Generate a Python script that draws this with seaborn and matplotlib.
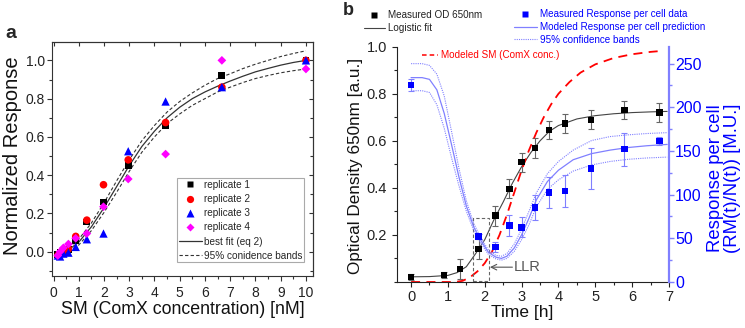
import matplotlib
matplotlib.use("Agg")
import matplotlib.pyplot as plt
import seaborn as sns
import pandas as pd
from matplotlib.lines import Line2D
from matplotlib.patches import Rectangle
from matplotlib.ticker import MultipleLocator, FormatStrFormatter

# ---------------- Panel a data ----------------
sm_conc = [0.17, 0.26, 0.39, 0.59, 0.88, 1.32, 1.98, 2.96, 4.44, 6.67, 10.0]
rep1 = [-0.015, -0.005, 0.0, 0.01, 0.06, 0.155, 0.26, 0.45, 0.66, 0.92, 1.0]
rep2 = [-0.02, -0.01, 0.005, 0.015, 0.08, 0.165, 0.35, 0.48, 0.675, 0.86, 1.0]
rep3 = [-0.02, -0.025, -0.01, -0.005, 0.025, 0.065, 0.095, 0.525, 0.785, 0.86, 1.0]
rep4 = [-0.02, 0.0, 0.02, 0.04, 0.07, 0.095, 0.235, 0.38, 0.51, 1.0, 0.955]

fit_x = [0.2, 0.5, 1.0, 1.5, 2.0, 2.5, 3.0, 3.5, 4.0, 4.5, 5.0, 5.5, 6.0, 6.5, 7.0, 7.5, 8.0, 8.5, 9.0, 9.5, 10.0]
fit_y = [-0.01, 0.0, 0.05, 0.13, 0.23, 0.34, 0.45, 0.55, 0.63, 0.70, 0.755, 0.80, 0.835, 0.865, 0.892, 0.917, 0.94, 0.958, 0.975, 0.989, 1.0]
band_hi = [-0.005, 0.01, 0.065, 0.15, 0.255, 0.37, 0.48, 0.58, 0.66, 0.73, 0.785, 0.83, 0.87, 0.905, 0.93, 0.957, 0.98, 1.0, 1.02, 1.036, 1.05]
band_lo = [-0.015, -0.01, 0.035, 0.11, 0.205, 0.31, 0.42, 0.52, 0.60, 0.67, 0.72, 0.765, 0.80, 0.835, 0.86, 0.884, 0.905, 0.921, 0.935, 0.946, 0.955]

# ---------------- Panel b data ----------------
od_t = [0, 0.9, 1.33, 1.83, 2.29, 2.67, 3.0, 3.36, 3.74, 4.18, 4.88, 5.79, 6.74]
od = [0.022, 0.030, 0.056, 0.141, 0.282, 0.396, 0.509, 0.569, 0.646, 0.673, 0.689, 0.731, 0.72]
od_err = [0.014, 0.014, 0.042, 0.042, 0.042, 0.04, 0.04, 0.042, 0.039, 0.041, 0.04, 0.04, 0.04]

logfit_t = [0, 0.5, 1.0, 1.25, 1.5, 1.75, 2.0, 2.25, 2.5, 2.75, 3.0, 3.25, 3.5, 3.75, 4.0, 4.5, 5.0, 5.5, 6.0, 6.5, 6.95]
logfit = [0.022, 0.023, 0.028, 0.04, 0.065, 0.12, 0.18, 0.265, 0.34, 0.42, 0.49, 0.55, 0.60, 0.64, 0.665, 0.693, 0.707, 0.715, 0.72, 0.723, 0.725]

sm_t = [0, 1.2, 1.4, 1.6, 1.8, 2.0, 2.2, 2.4, 2.6, 2.8, 3.0, 3.2, 3.4, 3.6, 3.8, 4.0, 4.3, 4.6, 5.0, 5.5, 6.0, 6.5, 6.8]
sm_model = [0, 0, 0.005, 0.02, 0.045, 0.08, 0.13, 0.2, 0.285, 0.38, 0.475, 0.56, 0.635, 0.70, 0.755, 0.80, 0.85, 0.89, 0.925, 0.952, 0.968, 0.978, 0.982]

resp_t = [0, 1.83, 2.29, 2.67, 3.0, 3.36, 3.74, 4.18, 4.88, 5.79, 6.74]
resp = [225.5, 52, 40, 64.5, 62.5, 85.5, 102.5, 104, 130, 152, 161.5]
resp_err = [7, 3, 6, 12, 11.5, 14.5, 18, 18.5, 23, 19, 5]

rm_t = [0, 0.3, 0.5, 0.7, 0.9, 1.1, 1.3, 1.5, 1.7, 1.9, 2.1, 2.3, 2.45, 2.6, 2.8, 3.0, 3.2, 3.4, 3.7, 4.0, 4.4, 4.9, 5.4, 5.9, 6.4, 6.95]
rm_mid = [234, 234, 232, 220, 193, 157, 120, 87, 63, 47, 34, 28.5, 27, 29.5, 39, 54, 73, 94, 115, 128, 140, 147, 151, 154, 156, 157.5]
rm_hi = [250, 250, 248, 238, 213, 172, 130, 93, 67, 50, 36.5, 30.5, 29.5, 32.5, 43.5, 60.5, 81, 102, 124, 138, 151, 162, 166.5, 168.5, 170, 171]
rm_lo = [219, 219, 217, 203, 176, 142, 110, 81, 59, 44, 31.5, 26.5, 25, 27, 35, 48.5, 65.5, 86, 106, 117, 127, 134, 138, 140.5, 142, 143]

# ---------------- style ----------------
sns.set_style("ticks")
plt.rcParams['font.family'] = ['Liberation Sans', 'DejaVu Sans']
plt.rcParams['axes.linewidth'] = 0.8

W, H = 745, 328
fig = plt.figure(figsize=(W / 100, H / 100), dpi=100)

def fbox(l, t, r, b):
    return [l / W, 1 - b / H, (r - l) / W, (b - t) / H]

# ================= Panel a =================
ax = fig.add_axes(fbox(52, 42, 313, 276))
frame_c = '#333333'
fitc = '#333333'
sns.lineplot(x=fit_x, y=band_hi, ax=ax, color=fitc, lw=0.8, linestyle=(0, (3, 2)), sort=False, estimator=None, legend=False)
sns.lineplot(x=fit_x, y=band_lo, ax=ax, color=fitc, lw=0.8, linestyle=(0, (3, 2)), sort=False, estimator=None, legend=False)
sns.lineplot(x=fit_x, y=fit_y, ax=ax, color=fitc, lw=0.9, sort=False, estimator=None, legend=False)

rep_specs = [(rep1, 's', '#000000', 24), (rep2, 'o', '#ff0000', 30), (rep3, '^', '#0000ff', 36), (rep4, 'D', '#ff00ff', 20)]
for vals, mk, col, s in rep_specs:
    sns.scatterplot(x=sm_conc, y=vals, ax=ax, marker=mk, color=col, s=s, edgecolor='none', linewidth=0, legend=False, zorder=3)

ax.set_xlim(-0.06, 10.28)
ax.set_ylim(-0.127, 1.096)
ax.xaxis.set_major_locator(MultipleLocator(1))
ax.xaxis.set_minor_locator(MultipleLocator(0.5))
ax.yaxis.set_major_locator(MultipleLocator(0.2))
ax.yaxis.set_minor_locator(MultipleLocator(0.1))
ax.yaxis.set_major_formatter(FormatStrFormatter('%.1f'))
ax.tick_params(which='both', direction='out', colors=frame_c, labelcolor='#222222', labelsize=10)
ax.tick_params(which='major', length=3.5, width=0.8)
ax.tick_params(which='minor', length=2, width=0.8)
ax.tick_params(axis='y', pad=1.5)
for sp in ax.spines.values():
    sp.set_visible(True)
    sp.set_color(frame_c)
sec_top = ax.secondary_xaxis('top')
sec_top.xaxis.set_major_locator(MultipleLocator(1))
sec_top.tick_params(direction='in', length=3, width=0.8, colors=frame_c, labeltop=False)
sec_right = ax.secondary_yaxis('right')
sec_right.yaxis.set_major_locator(MultipleLocator(0.2))
sec_right.yaxis.set_minor_locator(MultipleLocator(0.1))
sec_right.tick_params(which='both', direction='in', width=0.8, colors=frame_c, labelright=False)
sec_right.tick_params(which='major', length=3)
sec_right.tick_params(which='minor', length=2)
for s2 in (sec_top, sec_right):
    for sp in s2.spines.values():
        sp.set_color(frame_c)

ax.set_xlabel('SM (ComX concentration) [nM]', fontsize=12.8, color='#111111')
ax.set_ylabel('Normalized Response', fontsize=14.5, color='#111111')
ax.xaxis.set_label_coords(0.5, -0.106)
ax.yaxis.set_label_coords(-0.115, 0.513)

hand_a = [
    Line2D([], [], marker='s', ls='none', color='#000000', ms=4.5, mec='none'),
    Line2D([], [], marker='o', ls='none', color='#ff0000', ms=5.2, mec='none'),
    Line2D([], [], marker='^', ls='none', color='#0000ff', ms=5.5, mec='none'),
    Line2D([], [], marker='D', ls='none', color='#ff00ff', ms=4.3, mec='none'),
    Line2D([], [], color=fitc, lw=0.9),
    Line2D([], [], color=fitc, lw=0.8, ls=(0, (3, 2))),
]
lab_a = ['replicate 1', 'replicate 2', 'replicate 3', 'replicate 4', 'best fit (eq 2)', '95% conidence bands']
leg_a = ax.legend(hand_a, lab_a, loc='upper left', bbox_to_anchor=(0.48, 0.4175), borderaxespad=0,
                  fontsize=7.2, frameon=True, fancybox=False, edgecolor='#aaaaaa', framealpha=1,
                  borderpad=0.15, labelspacing=0.42, handlelength=2.3, handletextpad=0.2)
leg_a.get_frame().set_linewidth(0.8)

fig.text(5 / W, 1 - 38 / H, 'a', fontsize=14, fontweight='bold', va='baseline', ha='left')

# ================= Panel b =================
bx = fig.add_axes(fbox(396.7, 46.7, 669, 282))
bx2 = bx.twinx()
blue = '#0000ff'
lblue = '#8080ff'

bx.errorbar(od_t, od, yerr=od_err, fmt='none', ecolor='#666666', elinewidth=0.8, capsize=2.2, capthick=0.8, zorder=2)
sns.lineplot(x=logfit_t, y=logfit, ax=bx, color='#444444', lw=0.8, sort=False, estimator=None, legend=False)
sns.scatterplot(x=od_t, y=od, ax=bx, marker='s', color='#000000', s=22, edgecolor='none', linewidth=0, legend=False, zorder=4)
sns.lineplot(x=sm_t, y=sm_model, ax=bx, color='#ff0000', lw=1.3, linestyle=(0, (5, 3.5)), sort=False, estimator=None, legend=False, clip_on=False)

bx.add_patch(Rectangle((1.67, 0.005), 0.45, 0.265, fill=False, ls=(0, (3, 2)), ec='#666666', lw=0.8, zorder=3))
bx.annotate('', xy=(2.14, 0.063), xytext=(2.75, 0.063),
            arrowprops=dict(arrowstyle='->', color='#555555', lw=0.8, shrinkA=0, shrinkB=0))
bx.text(2.8, 0.063, 'LLR', fontsize=10.5, color='#555555', va='center', ha='left')

bx2.errorbar(resp_t, resp, yerr=resp_err, fmt='none', ecolor=lblue, elinewidth=0.8, capsize=2.2, capthick=0.8, zorder=2)
sns.lineplot(x=rm_t, y=rm_hi, ax=bx2, color=lblue, lw=0.8, linestyle=(0, (1, 1)), sort=False, estimator=None, legend=False)
sns.lineplot(x=rm_t, y=rm_lo, ax=bx2, color=lblue, lw=0.8, linestyle=(0, (1, 1)), sort=False, estimator=None, legend=False)
sns.lineplot(x=rm_t, y=rm_mid, ax=bx2, color=lblue, lw=0.9, sort=False, estimator=None, legend=False)
sns.scatterplot(x=resp_t, y=resp, ax=bx2, marker='s', color=blue, s=22, edgecolor='none', linewidth=0, legend=False, zorder=4)

bx.set_xlim(-0.39, 7.0)
bx.set_ylim(0, 1.0)
bx2.set_ylim(0, 269.4)
bx.xaxis.set_major_locator(MultipleLocator(1))
bx.xaxis.set_minor_locator(MultipleLocator(0.5))
bx.set_yticks([0.2, 0.4, 0.6, 0.8, 1.0])
bx.yaxis.set_minor_locator(MultipleLocator(0.1))
bx.yaxis.set_major_formatter(FormatStrFormatter('%.1f'))
bx2.yaxis.set_major_locator(MultipleLocator(50))
bx2.yaxis.set_minor_locator(MultipleLocator(25))

for a in (bx, bx2):
    a.spines['top'].set_visible(False)
bx.spines['right'].set_visible(False)
bx2.spines['left'].set_visible(False)
bx2.spines['bottom'].set_visible(False)
bx2.spines['right'].set_color(lblue)
bx2.spines['right'].set_linewidth(1.6)
bx.spines['left'].set_color('#222222')
bx.spines['bottom'].set_color('#222222')

bx.tick_params(which='both', direction='out', colors='#222222', labelsize=10.5)
bx.tick_params(which='major', length=3.5, width=0.8)
bx.tick_params(which='minor', length=2, width=0.8)
bx.tick_params(axis='x', pad=2)
bx2.tick_params(which='both', direction='out', colors=lblue, labelcolor=blue, labelsize=11.5, pad=1)
bx2.tick_params(which='major', length=3.5, width=1.0)
bx2.tick_params(which='minor', length=2, width=1.0)

bx.set_xlabel('Time [h]', fontsize=12.5, color='#111111')
bx.set_ylabel('Optical Density 650nm [a.u.]', fontsize=12.3, color='#111111')
bx.xaxis.set_label_coords(0.462, -0.097)
bx.yaxis.set_label_coords(-0.124, 0.493)
bx2.set_ylabel('Response per cell\n(RM(t)/N(t)) [M.U.]', fontsize=13.3, color=blue, linespacing=1.0)
bx2.yaxis.set_label_coords(1.14, 0.44)

fig.text(343 / W, 1 - 15 / H, 'b', fontsize=13, fontweight='bold', va='baseline', ha='left')

# legends for panel b
hand_l = [Line2D([], [], marker='s', ls='none', color='#000000', ms=4.2, mec='none'),
          Line2D([], [], color='#444444', lw=0.8)]
fig.legend(hand_l, ['Measured OD 650nm', 'Logistic fit'], loc='upper left', bbox_to_anchor=(364 / W, 1 - 10 / H),
           frameon=False, fontsize=7.1, borderpad=0, borderaxespad=0, labelspacing=0.35,
           handlelength=2.1, handletextpad=0.35, labelcolor='#222222')
hand_r = [Line2D([], [], marker='s', ls='none', color=blue, ms=4.2, mec='none'),
          Line2D([], [], color=lblue, lw=0.9),
          Line2D([], [], color=lblue, lw=0.8, ls=(0, (1, 1)))]
fig.legend(hand_r, ['Measured Response per cell data', 'Modeled Response per cell prediction', '95% confidence bands'],
           loc='upper left', bbox_to_anchor=(514 / W, 1 - 9 / H), frameon=False, fontsize=7.1, borderpad=0,
           borderaxespad=0, labelspacing=0.3, handlelength=2.3, handletextpad=0.3, labelcolor=blue)
hand_sm = [Line2D([], [], color='#ff0000', lw=1.1, ls=(0, (3, 2)))]
fig.legend(hand_sm, ['Modeled SM (ComX conc.)'], loc='upper left', bbox_to_anchor=(422 / W, 1 - 50 / H),
           frameon=False, fontsize=7.1, borderpad=0, borderaxespad=0, handlelength=1.6, handletextpad=0.35,
           labelcolor='#ff0000')

fig.savefig('out.png', dpi=100)
